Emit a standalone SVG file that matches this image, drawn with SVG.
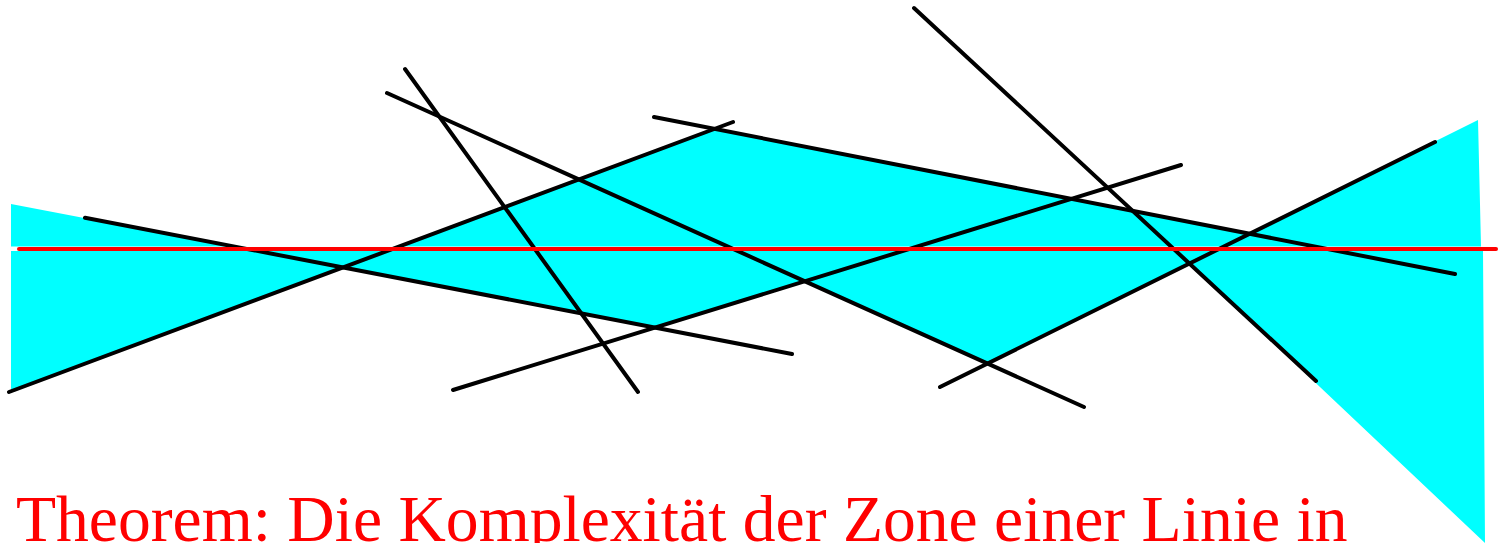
<svg xmlns="http://www.w3.org/2000/svg" width="1498" height="543" viewBox="0 0 1498 543">
<style>
.zone{fill:#00ffff;stroke:none}
.ln{stroke:#000;stroke-width:4;stroke-linecap:round;fill:none}
.red{stroke:#ff0000;stroke-width:4;stroke-linecap:round;fill:none}
.title{font-family:"Liberation Serif","Times New Roman",serif;font-size:65.6px;fill:#ff0000}
</style>
<rect width="1498" height="543" fill="#fff"/>
<g id="zone">
<polygon class="zone" points="11,204 233,246.5 11,246.5"/>
<polygon class="zone" points="400,246.5 714.6,128.9 1249.6,233.7 1478,120 1481,246.5"/>
<polygon class="zone" points="11,251 11,390 343,267.4 654.9,327.6 804.8,281.2 987.4,363.5 1189.4,263.5 1485,543 1483,251"/>
</g>
<g id="lines">
<line class="ln" x1="85" y1="217.7" x2="792" y2="354"/>
<line class="ln" x1="9" y1="392" x2="733" y2="122"/>
<line class="ln" x1="405" y1="69" x2="638" y2="392"/>
<line class="ln" x1="387" y1="93" x2="1084" y2="407"/>
<line class="ln" x1="654" y1="117" x2="1455" y2="274"/>
<line class="ln" x1="453" y1="390" x2="1181" y2="165"/>
<line class="ln" x1="914" y1="8" x2="1316" y2="381"/>
<line class="ln" x1="940" y1="387" x2="1435" y2="142"/>
</g>
<g id="redline">
<line class="red" x1="19" y1="249" x2="1496" y2="249"/>
</g>
<g id="caption">
<text class="title" x="16" y="541">Theorem: Die Komplexität der Zone einer Linie in</text>
</g>
</svg>
